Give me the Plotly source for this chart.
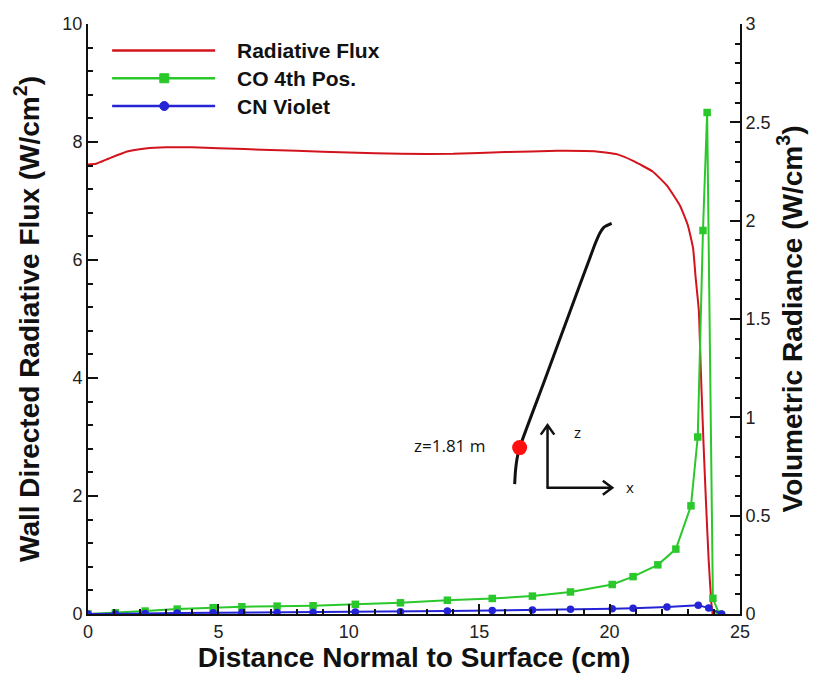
import plotly.graph_objects as go

# ---------------- data ----------------
series_names = ["Radiative Flux", "CO 4th Pos.", "CN Violet"]

# Wall directed radiative flux (left axis, W/cm^2)
dist_flux = [0.0, 0.3, 0.8, 1.5, 2.2, 3.0, 4.0, 6.0, 8.0, 10.0, 12.0, 14.0, 16.0, 18.0,
             19.5, 20.3, 20.9, 21.65, 22.2, 22.7, 23.0, 23.2, 23.3, 23.42, 23.5, 23.6,
             23.7, 23.8, 23.9, 23.95]
flux = [7.62, 7.63, 7.72, 7.84, 7.89, 7.91, 7.91, 7.88, 7.85, 7.82, 7.80, 7.80, 7.83, 7.85,
        7.84, 7.79, 7.68, 7.50, 7.26, 6.92, 6.59, 6.20, 5.70, 5.15, 4.10, 2.90,
        1.85, 0.90, 0.20, 0.0]

# CO 4th Positive volumetric radiance (right axis, W/cm^3)
dist_co = [0.0, 1.05, 2.19, 3.42, 4.8, 5.9, 7.25, 8.63, 10.25, 11.98, 13.78, 15.5, 17.04,
           18.5, 20.1, 20.9, 21.85, 22.54, 23.12, 23.38, 23.58, 23.74, 23.96, 24.2]
co = [0.0, 0.006, 0.015, 0.025, 0.032, 0.037, 0.040, 0.042, 0.049, 0.057, 0.070, 0.079, 0.091,
      0.112, 0.150, 0.190, 0.250, 0.330, 0.550, 0.900, 1.950, 2.550, 0.080, 0.0]

# CN Violet volumetric radiance (right axis, W/cm^3)
dist_cn = [0.0, 1.05, 2.19, 3.42, 4.8, 5.9, 7.25, 8.63, 10.25, 11.98, 13.78, 15.5, 17.04,
           18.5, 20.1, 20.9, 22.2, 23.4, 23.8, 24.3]
cn = [0.0, 0.0, 0.003, 0.005, 0.006, 0.007, 0.008, 0.009, 0.010, 0.012, 0.015, 0.018, 0.020,
      0.024, 0.027, 0.029, 0.035, 0.045, 0.030, 0.0]

# Inset: body outline sketch and station marker (in left-axis data units)
body_x = [16.36, 16.39, 16.45, 16.55, 17.5, 18.5, 19.24, 19.45, 19.62, 19.8, 20.08]
body_z = [2.20, 2.42, 2.63, 2.82, 3.95, 5.15, 6.03, 6.28, 6.45, 6.56, 6.62]
station_x = [16.55]
station_z = [2.82]
station_label = "z=1.81 m"

# inset coordinate-frame arrows (origin and tips, left-axis data units)
frame_origin = (17.62, 2.14)
frame_z_tip = (17.62, 3.20)
frame_x_tip = (20.10, 2.14)

x_ticks = [0, 5, 10, 15, 20, 25]
y_ticks = [0, 2, 4, 6, 8, 10]
y2_ticks = [0, 0.5, 1, 1.5, 2, 2.5, 3]

RED = "#d2141c"
GREEN = "#2ac82a"
BLUE = "#2424d6"
INK = "#111111"
FONT = "Liberation Sans, Arial, sans-serif"
SMALL_FONT = "Open Sans, sans-serif"

fig = go.Figure()

# inset sketch
fig.add_trace(go.Scatter(x=body_x, y=body_z, mode="lines",
                         line=dict(color=INK, width=3, shape="spline", smoothing=0.5),
                         showlegend=False, hoverinfo="skip", yaxis="y"))
fig.add_trace(go.Scatter(x=station_x, y=station_z, mode="markers",
                         marker=dict(color="#ff1010", size=15),
                         showlegend=False, hoverinfo="skip", yaxis="y"))

fig.add_trace(go.Scatter(x=dist_flux, y=flux, mode="lines", name=series_names[0],
                         line=dict(color=RED, width=2, shape="spline", smoothing=0.4),
                         showlegend=False, yaxis="y"))
fig.add_trace(go.Scatter(x=dist_co, y=co, mode="lines+markers", name=series_names[1],
                         line=dict(color=GREEN, width=2),
                         marker=dict(symbol="square", size=7.5, color=GREEN),
                         showlegend=False, yaxis="y2"))
fig.add_trace(go.Scatter(x=dist_cn, y=cn, mode="lines+markers", name=series_names[2],
                         line=dict(color=BLUE, width=2),
                         marker=dict(symbol="circle", size=7.5, color=BLUE),
                         showlegend=False, yaxis="y2"))

# ---- custom legend (long line samples as in the original) ----
leg_rows = [0.955, 0.908, 0.861]
leg_cols = [RED, GREEN, BLUE]
leg_sym = [None, "rect", "circle"]
shapes = []
annotations = []
for name, yy, col, sym in zip(series_names, leg_rows, leg_cols, leg_sym):
    shapes.append(dict(type="line", xref="paper", yref="paper", x0=0.037, x1=0.195,
                       y0=yy, y1=yy, line=dict(color=col, width=2.5)))
    if sym:
        shapes.append(dict(type=sym, xref="paper", yref="paper",
                           xsizemode="pixel", ysizemode="pixel",
                           xanchor=0.117, yanchor=yy, x0=-4.5, x1=4.5, y0=-4.5, y1=4.5,
                           fillcolor=col, line=dict(color=col, width=1)))
    annotations.append(dict(x=0.225, y=yy, xref="paper", yref="paper", text="<b>%s</b>" % name,
                            showarrow=False, xanchor="left", yanchor="middle",
                            font=dict(family=FONT, size=21, color=INK)))

# inset coordinate frame arrows drawn as shapes
ox, oy = frame_origin
zx, zy = frame_z_tip
xx, xy = frame_x_tip
shapes.append(dict(type="line", xref="x", yref="y", x0=ox, y0=oy, x1=zx, y1=zy,
                   line=dict(color=INK, width=2.5)))
shapes.append(dict(type="line", xref="x", yref="y", x0=ox - 0.04, y0=oy, x1=xx, y1=xy,
                   line=dict(color=INK, width=2.5)))
shapes.append(dict(type="path", xref="x", yref="y",
                   path="M %f,%f L %f,%f L %f,%f" % (zx - 0.26, zy - 0.16, zx, zy, zx + 0.26, zy - 0.16),
                   line=dict(color=INK, width=2.5)))
shapes.append(dict(type="path", xref="x", yref="y",
                   path="M %f,%f L %f,%f L %f,%f" % (xx - 0.36, xy + 0.12, xx, xy, xx - 0.36, xy - 0.12),
                   line=dict(color=INK, width=2.5)))

annotations.append(dict(x=15.3, y=2.86, xref="x", yref="y", text=station_label, showarrow=False,
                        xanchor="right", yanchor="middle",
                        font=dict(family=SMALL_FONT, size=17, color=INK)))
annotations.append(dict(x=18.77, y=3.08, xref="x", yref="y", text="z", showarrow=False,
                        font=dict(family=SMALL_FONT, size=15, color=INK)))
annotations.append(dict(x=20.8, y=2.16, xref="x", yref="y", text="x", showarrow=False,
                        font=dict(family=SMALL_FONT, size=15, color=INK)))

axis_common = dict(showline=True, linecolor=INK, linewidth=2, ticks="inside",
                   ticklen=10, tickwidth=2, tickcolor=INK, showgrid=False, zeroline=False,
                   tickfont=dict(family=FONT, size=18, color="#222222"))

fig.update_layout(
    width=816, height=673,
    margin=dict(l=88, r=76, t=24, b=54),
    paper_bgcolor="white", plot_bgcolor="white",
    showlegend=False,
    xaxis=dict(range=[0, 25], tickvals=x_ticks,
               minor=dict(ticks="inside", ticklen=5, tickwidth=1.5, dtick=1, tickcolor=INK),
               title=dict(text="<b>Distance Normal to Surface (cm)</b>", standoff=0,
                          font=dict(family=FONT, size=28, color=INK)),
               **axis_common),
    yaxis=dict(range=[0, 10], tickvals=y_ticks,
               minor=dict(ticks="inside", ticklen=5, tickwidth=1.5, dtick=0.4, tickcolor=INK),
               title=dict(text="<b>Wall Directed Radiative Flux (W/cm<sup>2</sup>)</b>", standoff=15,
                          font=dict(family=FONT, size=28, color=INK)),
               **axis_common),
    yaxis2=dict(range=[0, 3], tickvals=y2_ticks, overlaying="y", side="right",
                minor=dict(ticks="inside", ticklen=5, tickwidth=1.5, dtick=0.1, tickcolor=INK),
                title=dict(text="<b>Volumetric Radiance (W/cm<sup>3</sup>)</b>", standoff=13,
                           font=dict(family=FONT, size=28, color=INK)),
                **axis_common),
    shapes=shapes,
    annotations=annotations,
)

fig.write_html("out.html")
